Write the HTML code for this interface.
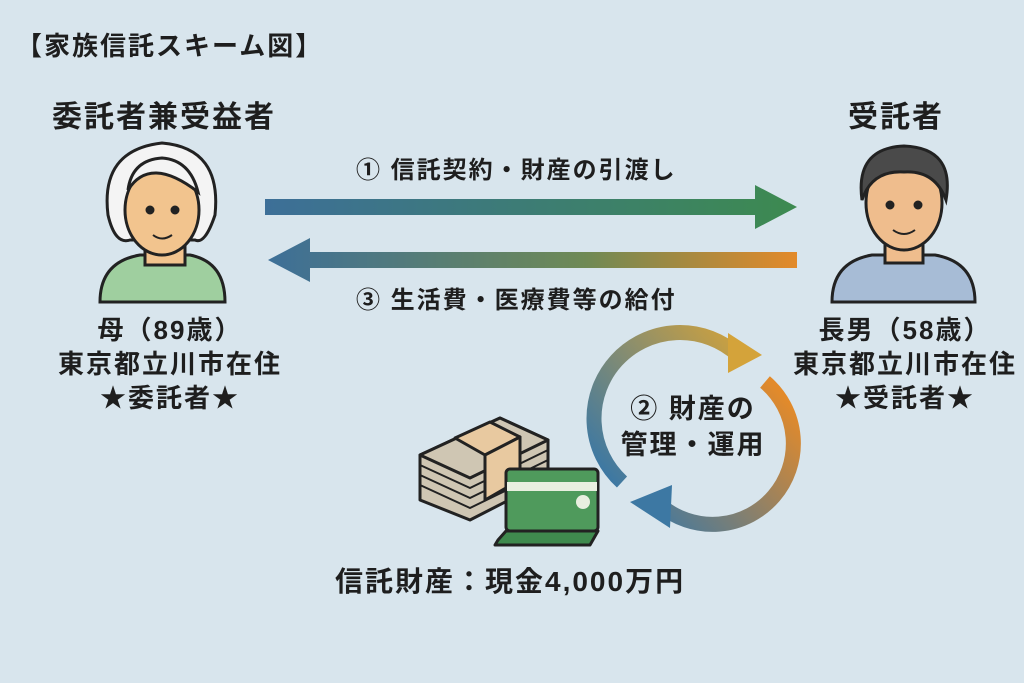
<!DOCTYPE html>
<html><head><meta charset="utf-8"><style>
body{margin:0;width:1024px;height:683px;background:#d8e5ed;font-family:"Liberation Sans","Noto Sans CJK JP",sans-serif;color:#1e1e1e;position:relative;overflow:hidden}
.t{position:absolute;font-weight:bold;white-space:nowrap;letter-spacing:2px}
</style></head><body>
<div class="t" style="left:16px;top:26px;font-size:26px">【家族信託スキーム図】</div>
<div class="t" style="left:52px;top:92px;font-size:30px">委託者兼受益者</div>
<div class="t" style="left:848px;top:92px;font-size:30px">受託者</div>
<div class="t" style="left:356px;top:150px;font-size:24px">① 信託契約・財産の引渡し</div>
<div class="t" style="left:356px;top:280px;font-size:24px">③ 生活費・医療費等の給付</div>
<div class="t" style="left:20px;top:313px;width:300px;text-align:center;font-size:26px;line-height:34px">母（89歳）<br>東京都立川市在住<br>★委託者★</div>
<div class="t" style="left:755px;top:313px;width:300px;text-align:center;font-size:26px;line-height:34px">長男（58歳）<br>東京都立川市在住<br>★受託者★</div>
<div class="t" style="left:603px;top:391px;width:180px;text-align:center;font-size:27px;line-height:36px">② 財産の<br>管理・運用</div>
<div class="t" style="left:335px;top:560px;font-size:28px">信託財産：現金4,000万円</div>
<svg width="1024" height="683" style="position:absolute;left:0;top:0">
<defs>
<linearGradient id="g1" x1="265" x2="797" gradientUnits="userSpaceOnUse"><stop offset="0" stop-color="#3d6f98"/><stop offset="1" stop-color="#3d8a50"/></linearGradient>
<linearGradient id="g2" x1="268" x2="797" gradientUnits="userSpaceOnUse"><stop offset="0" stop-color="#3d6f98"/><stop offset="0.6" stop-color="#6f8a55"/><stop offset="1" stop-color="#e38a2a"/></linearGradient>
<linearGradient id="g3" x1="610" y1="480" x2="760" y2="350" gradientUnits="userSpaceOnUse"><stop offset="0" stop-color="#3d78a3"/><stop offset="1" stop-color="#d4a33a"/></linearGradient>
<linearGradient id="g4" x1="770" y1="380" x2="630" y2="510" gradientUnits="userSpaceOnUse"><stop offset="0" stop-color="#e38a2a"/><stop offset="1" stop-color="#3d78a3"/></linearGradient>
</defs>
<path d="M265 199H755V185L797 207L755 229V215H265Z" fill="url(#g1)"/>
<path d="M797 252H310V238L268 260L310 282V268H797Z" fill="url(#g2)"/>
<path d="M622 482 A80 80 0 0 1 738 355" fill="none" stroke="url(#g3)" stroke-width="15"/>
<path d="M728 333L762 355L728 373Z" fill="#d4a33a"/>
<path d="M765 382 A80 80 0 0 1 660 505" fill="none" stroke="url(#g4)" stroke-width="15"/>
<path d="M672 485L630 502L670 528Z" fill="#3d78a3"/>
<g stroke="#222" stroke-width="3" stroke-linejoin="round">
<path d="M420 455L500 418L548 440L548 480L470 520L420 500Z" fill="#cfc6b3"/>
<path d="M420 455L500 418L548 440L470 478Z" fill="#cfc6b3"/>
<path d="M420 465L470 488L548 450M420 475L470 498L548 460M420 485L470 508L548 470" fill="none" stroke-width="2"/>
<path d="M455 438L490 422L520 437L485 455Z" fill="#e8c9a0"/>
<path d="M485 455L520 437L520 480L485 500Z" fill="#e8c9a0"/>
<rect x="506" y="469" width="92" height="62" rx="4" fill="#4f9a5c"/>
<rect x="507" y="482" width="90" height="9" fill="#e9efe0" stroke="none"/>
<circle cx="583" cy="502" r="7" fill="#e9efe0" stroke="none"/>
<path d="M498 540L506 531H598L590 545H495Z" fill="#3f8a4e"/>
</g>
<g stroke="#222" stroke-width="3">
<path d="M100 302Q100 262 140 255H190Q225 262 225 302Z" fill="#9fcf9f"/>
<rect x="145" y="240" width="40" height="25" fill="#f2c48e"/>
<path d="M108 215Q100 150 162 143Q222 148 215 215Q205 245 195 240H130Q115 245 108 215Z" fill="#f4f4f4"/>
<ellipse cx="162" cy="210" rx="37" ry="45" fill="#f2c48e"/>
<path d="M128 190Q150 155 198 192Q190 160 162 158Q132 160 128 190Z" fill="#f4f4f4"/>
<circle cx="150" cy="210" r="3" fill="#222"/><circle cx="175" cy="210" r="3" fill="#222"/>
<path d="M153 235Q162 242 172 235" fill="none" stroke-width="2"/>
</g>
<g stroke="#222" stroke-width="3">
<path d="M832 302Q832 262 872 255H935Q975 262 975 302Z" fill="#a7bcd6"/>
<rect x="885" y="238" width="38" height="25" fill="#efbd8d"/>
<ellipse cx="904" cy="203" rx="38" ry="47" fill="#efbd8d"/>
<path d="M862 200Q855 148 904 146Q955 148 946 200Q935 170 904 172Q872 170 862 200Z" fill="#4a4a4a"/>
<circle cx="890" cy="205" r="3" fill="#222"/><circle cx="918" cy="205" r="3" fill="#222"/>
<path d="M893 230Q904 238 915 230" fill="none" stroke-width="2"/>
</g>
</svg>
</body></html>
